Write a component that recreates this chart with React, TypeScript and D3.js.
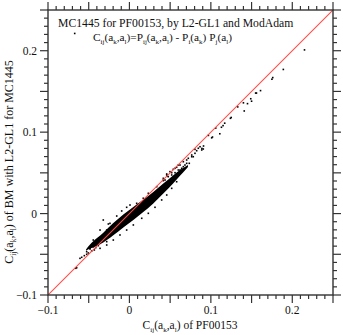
import React from 'react';
import * as d3 from 'd3';

const W = 343;
const H = 335;
const plot = { left: 48, right: 333, top: 10, bottom: 295 };

const xDomain = [-0.1, 0.25];
const yDomain = [-0.1, 0.25];
const tickLabels = [-0.1, 0, 0.1, 0.2];

const coreX = [-0.0533, -0.0484, -0.0444, -0.0321, -0.0198, -0.0075, 0.0048, 0.017, 0.0293, 0.0416, 0.0539, 0.0621, 0.0719];
const coreLow = [-0.0456, -0.043, -0.0416, -0.0354, -0.0265, -0.017, -0.0078, 0.002, 0.0125, 0.0248, 0.0372, 0.0464, 0.0573];
const coreHigh = [-0.044, -0.038, -0.034, -0.0234, -0.0115, -0.001, 0.0082, 0.017, 0.0265, 0.0368, 0.0472, 0.0534, 0.0597];

// sparse points of the upper tail
const tailPoints: [number, number][] = [
  [0.215, 0.201], [0.189, 0.177], [0.176, 0.167], [0.175, 0.165], [0.161, 0.151],
  [0.155, 0.148], [0.156, 0.148], [0.149, 0.141], [0.150, 0.138], [0.145, 0.135],
  [0.140, 0.136], [0.141, 0.126], [0.133, 0.131], [0.125, 0.118], [0.124, 0.117],
  [0.117, 0.111], [0.115, 0.108], [0.113, 0.106], [0.106, 0.105], [0.102, 0.094],
  [0.101, 0.093], [0.111, 0.098], [0.097, 0.096], [0.091, 0.083], [0.089, 0.080],
  [0.0846, 0.0802], [0.0826, 0.0772], [0.0805, 0.0789], [0.0867, 0.0821], [0.0888, 0.0781],
  [0.0907, 0.0793], [0.0765, 0.0719], [0.0723, 0.0679], [0.0784, 0.0698], [0.0703, 0.0658],
  [0.0662, 0.0637], [0.0735, 0.0617], [0.0682, 0.0596], [0.0621, 0.0596], [0.0642, 0.0556],
  [0.058, 0.0568], [0.06, 0.0535], [0.0539, 0.0544], [0.056, 0.0502], [0.0498, 0.0515],
  [0.0519, 0.0474], [0.0458, 0.0486], [0.0477, 0.0453], [0.0416, 0.0433], [0.0437, 0.0412],
  [0.0703, 0.0617], [0.0662, 0.0576], [0.0765, 0.0698], [0.0805, 0.074], [0.0621, 0.0535],
  [0.058, 0.0474], [0.0458, 0.0474], [0.0416, 0.0412],
];

// sparse points of the lower tail
const lowerPoints: [number, number][] = [
  [-0.0607, -0.055], [-0.0586, -0.0537], [-0.0554, -0.0517], [-0.0525, -0.05], [-0.0505, -0.0484],
  [-0.0464, -0.046], [-0.0484, -0.0435], [-0.0431, -0.0447], [-0.0414, -0.0419], [-0.0382, -0.0394],
  [-0.0444, -0.0407], [-0.0648, -0.0665], [-0.066, -0.0672], [-0.0361, -0.0365], [-0.0321, -0.0325],
  [-0.0279, -0.0345], [-0.0259, -0.0284], [-0.0444, -0.0325], [-0.0484, -0.0427], [-0.0525, -0.0468],
];

// scattered points along both edges of the core
const edgePoints: [number, number][] = [
  [-0.0361, -0.0202], [-0.0259, -0.0128], [-0.0156, -0.003], [-0.0095, 0.0032], [-0.0034, 0.0077],
  [0.0007, 0.0105], [0.0089, 0.0126], [0.017, 0.0188], [0.0232, 0.0249], [0.0335, 0.033],
  [0.0416, 0.0404], [0.0465, 0.0461], [0.0519, 0.0502], [0.056, 0.0556], [0.06, 0.0596],
  [-0.0361, -0.0427], [-0.0279, -0.0386], [-0.0198, -0.0325], [-0.0116, -0.0263], [-0.0034, -0.0202],
  [0.0048, -0.014], [0.0151, -0.0058], [0.0232, 0.0003], [0.0314, 0.0077], [0.0396, 0.0167],
  [0.0458, 0.0228], [0.0519, 0.031], [0.058, 0.0391], [-0.0239, -0.012], [-0.0321, -0.0079],
  [-0.0279, -0.0202],
];

const legendPoint: [number, number] = [-0.0672, 0.2212];

type Seg = [string, boolean?];

const cLabel: Seg[] = [['C'], ['ij', true], ['(a'], ['k', true], [',a'], ['l', true], [')']];
const legendLabel: Seg[] = [
  ...cLabel, ['=P'], ['ij', true], ['(a'], ['k', true], [',a'], ['l', true], [') - P'],
  ['i', true], ['(a'], ['k', true], [') P'], ['j', true], ['(a'], ['l', true], [')'],
];

const FONT = 'Liberation Serif';

const Rich = ({ segs, size }: { segs: Seg[]; size: number }) => {
  let low = false;
  return (
    <>
      {segs.map(([t, sub], i) => {
        const dy = sub && !low ? 3 : !sub && low ? -3 : 0;
        low = !!sub;
        return (
          <tspan key={i} dy={dy} fontSize={sub ? size * 0.62 : size} fontFamily={FONT}>
            {t}
          </tspan>
        );
      })}
    </>
  );
};

const App = () => {
  const x = d3.scaleLinear().domain(xDomain).range([plot.left, plot.right]);
  const y = d3.scaleLinear().domain(yDomain).range([plot.bottom, plot.top]);

  const core = d3.area<number>()
    .x((d, i) => x(coreX[i]))
    .y0((d, i) => y(coreLow[i]))
    .y1((d, i) => y(coreHigh[i]))
    .curve(d3.curveMonotoneX);

  const minorX = x.ticks(35);
  const majorX = x.ticks(7);
  const minorY = y.ticks(35);
  const majorY = y.ticks(7);
  const isMajor = (v: number, major: number[]) => major.some(m => Math.abs(m - v) < 1e-9);

  const allPoints = [...tailPoints, ...lowerPoints, ...edgePoints];
  const axis = '#333';

  return (
    <svg width={W} height={H} style={{ position: 'absolute', left: 0, top: 0, background: '#fff' }}>
      <defs>
        <clipPath id="plotClip">
          <rect x={plot.left} y={plot.top} width={plot.right - plot.left} height={plot.bottom - plot.top} />
        </clipPath>
      </defs>

      <g clipPath="url(#plotClip)">
        <path d={core(coreX) ?? ''} fill="#000" />
        {allPoints.map(([px, py], i) => (
          <rect key={i} x={x(px) - 0.8} y={y(py) - 0.8} width={1.6} height={1.6} fill="#000" />
        ))}
        <line x1={x(-0.1)} y1={y(-0.1)} x2={x(0.25)} y2={y(0.25)} stroke="#ff4a4a" strokeWidth={1.1} />
      </g>

      {/* frame with ticks pointing out on every side */}
      <rect x={plot.left} y={plot.top} width={plot.right - plot.left} height={plot.bottom - plot.top}
        fill="none" stroke={axis} strokeWidth={1.4} />
      {minorX.map(v => {
        const len = isMajor(v, majorX) ? 8 : 4;
        return (
          <g key={'x' + v} stroke={axis} strokeWidth={1.2}>
            <line x1={x(v)} x2={x(v)} y1={plot.bottom} y2={plot.bottom + len} />
            <line x1={x(v)} x2={x(v)} y1={plot.top} y2={plot.top - len} />
          </g>
        );
      })}
      {minorY.map(v => {
        const len = isMajor(v, majorY) ? 8 : 4;
        return (
          <g key={'y' + v} stroke={axis} strokeWidth={1.2}>
            <line y1={y(v)} y2={y(v)} x1={plot.left} x2={plot.left - len} />
            <line y1={y(v)} y2={y(v)} x1={plot.right} x2={plot.right + len} />
          </g>
        );
      })}

      <g fontFamily={FONT} fill="#111">
        {tickLabels.map(v => (
          <text key={'xl' + v} x={x(v)} y={314} fontSize={11.5} textAnchor="middle">
            {d3.format('')(v)}
          </text>
        ))}
        {tickLabels.map(v => (
          <text key={'yl' + v} x={37} y={y(v) + 4} fontSize={11.5} textAnchor="end">
            {d3.format('')(v)}
          </text>
        ))}

        <text x={190} y={329} fontSize={11.5} textAnchor="middle">
          <Rich segs={[...cLabel, [' of PF00153']]} size={11.5} />
        </text>
        <text transform="translate(13,162) rotate(-90)" fontSize={12} textAnchor="middle">
          <Rich segs={[...cLabel, [' of BM with L2-GL1 for MC1445']]} size={12} />
        </text>

        <text x={58} y={27} fontSize={11.7}>MC1445 for PF00153, by L2-GL1 and ModAdam</text>
        <text x={93} y={41} fontSize={11.3}>
          <Rich segs={legendLabel} size={11.3} />
        </text>
      </g>
      <rect x={x(legendPoint[0]) - 0.8} y={y(legendPoint[1]) - 0.8} width={1.6} height={1.6} fill="#000" />
    </svg>
  );
};

export default App;
